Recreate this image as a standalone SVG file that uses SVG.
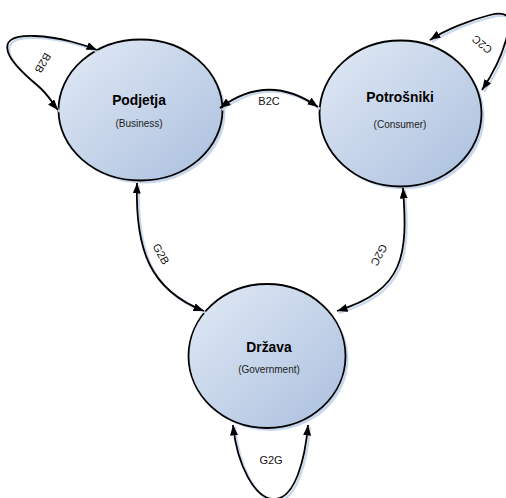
<svg xmlns="http://www.w3.org/2000/svg" xmlns:xlink="http://www.w3.org/1999/xlink" width="506" height="498" viewBox="0 0 506 498">
<style>
  .node { fill: url(#nodeFill); stroke: #000; stroke-width: 1.8; }
  .nshadow { fill: #c9d7ec; }
  .title { font-family: "Liberation Sans", Arial, sans-serif; font-size: 13.8px; font-weight: bold; fill: #000; text-anchor: middle; }
  .sub { font-family: "Liberation Sans", Arial, sans-serif; font-size: 10px; fill: #222; text-anchor: middle; }
  .lbl { font-family: "Liberation Sans", Arial, sans-serif; font-size: 11px; fill: #111; text-anchor: middle; }
  .lines { fill: none; stroke: #000; stroke-width: 1.8; marker-start: url(#ah); marker-end: url(#ah); }
  .shadows { fill: none; stroke: #c9d7ec; stroke-width: 2.2; }
</style>
<defs>
  <linearGradient id="nodeFill" x1="0" y1="0" x2="1" y2="1">
    <stop offset="0" stop-color="#e2eaf6"/>
    <stop offset="1" stop-color="#aabfdd"/>
  </linearGradient>
  <marker id="ah" markerUnits="userSpaceOnUse" markerWidth="11" markerHeight="8" refX="10.5" refY="4" orient="auto-start-reverse">
    <path d="M0,0 L10.5,4 L0,8 z" fill="#000"/>
  </marker>
  <path id="pB2B" d="M97,50 C85,45 60,37 35,36 S5,42 8,52 S25,75 37,85 S52,103 58,110"/>
  <path id="pC2C" d="M430,40 C445,30 470,20 490,15 S512,18 506,40 S490,78 482,90"/>
  <path id="pB2C" d="M220,108 Q268,72 318,107"/>
  <path id="pG2B" d="M137,183 C135,250 150,290 204,311"/>
  <path id="pG2C" d="M403,188 C408,255 405,290 337,311"/>
  <path id="pG2G" d="M233,425 C237,465 255,500 275,499 S305,460 308,425"/>
</defs>
<rect width="506" height="498" fill="#fff"/>
<g id="node-podjetja">
  <ellipse class="nshadow" cx="143.5" cy="113" rx="82" ry="70.5"/>
  <ellipse class="node" cx="140.5" cy="110" rx="82" ry="70.5"/>
  <text class="title" x="139" y="104.5">Podjetja</text>
  <text class="sub" x="139" y="126.5">(Business)</text>
</g>
<g id="node-potrosniki">
  <ellipse class="nshadow" cx="403.5" cy="116.5" rx="81" ry="73"/>
  <ellipse class="node" cx="400.5" cy="113.5" rx="81" ry="73"/>
  <text class="title" x="400" y="102">Potrošniki</text>
  <text class="sub" x="400" y="128">(Consumer)</text>
</g>
<g id="node-drzava">
  <ellipse class="nshadow" cx="270" cy="359" rx="78.5" ry="72"/>
  <ellipse class="node" cx="267" cy="356" rx="78.5" ry="72"/>
  <text class="title" x="269" y="352">Država</text>
  <text class="sub" x="269" y="373">(Government)</text>
</g>
<g id="connectors">
  <g class="shadows" transform="translate(2,2)">
    <use xlink:href="#pB2B"/>
    <use xlink:href="#pC2C"/>
    <use xlink:href="#pB2C"/>
    <use xlink:href="#pG2B"/>
    <use xlink:href="#pG2C"/>
    <use xlink:href="#pG2G"/>
  </g>
  <g class="lines">
    <use xlink:href="#pB2B"/>
    <use xlink:href="#pC2C"/>
    <use xlink:href="#pB2C"/>
    <use xlink:href="#pG2B"/>
    <use xlink:href="#pG2C"/>
    <use xlink:href="#pG2G"/>
  </g>
  <text class="lbl" transform="translate(43,63) rotate(121)" dy="0.35em">B2B</text>
  <text class="lbl" transform="translate(482,44.5) rotate(219)" dy="0.35em">C2C</text>
  <text class="lbl" x="269" y="104.5">B2C</text>
  <text class="lbl" transform="translate(161,254) rotate(61)" dy="0.35em">G2B</text>
  <text class="lbl" transform="translate(379,255) rotate(118)" dy="0.35em">G2C</text>
  <text class="lbl" x="271" y="464">G2G</text>
</g>
</svg>
